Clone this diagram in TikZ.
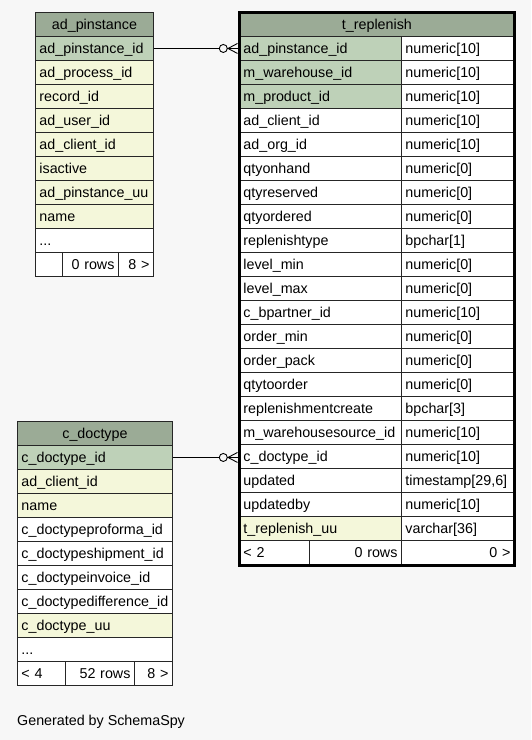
\documentclass[tikz,border=0pt]{standalone}
\usepackage{fontspec}
\setmainfont{Liberation Sans}
\definecolor{hdr}{HTML}{9BAB96}
\definecolor{pkc}{HTML}{BED1B8}
\definecolor{idx}{HTML}{F4F7DA}
\definecolor{bgc}{HTML}{F7F7F7}
\tikzset{
  cell/.style={draw=black!85, line width=0.9pt, anchor=north west, minimum height=24pt,
    inner xsep=4pt, inner ysep=0pt, text height=11.5pt, text depth=1.5pt,
    font=\fontsize{14.3}{16}\selectfont},
  conn/.style={draw=black, line width=0.9pt}
}
\newcommand\mydots{...}
\newcommand\mkcell[7]{%
  \pgfmathsetmacro\cw{#4-8}%
  \node[cell, fill=#5, minimum width=#4pt, text width=\cw pt, align=#6] (#1) at (#2,#3) {#7};}
\newcommand\crowfoot[1]{%
  \draw[conn] ([xshift=-15.7pt]#1) circle (4pt);
  \draw[conn] ([xshift=-11.7pt]#1) -- (#1);
  \draw[conn] ([xshift=-1.5pt,yshift=5pt]#1) -- ([xshift=-11pt]#1) -- ([xshift=-1.5pt,yshift=-5pt]#1);}
\begin{document}
\begin{tikzpicture}[x=1pt,y=-1pt]
\fill[bgc] (0,0) rectangle (531,740);
\useasboundingbox (0,0) rectangle (531,740);

% ad_pinstance
\mkcell{pH}{35}{12}{118}{hdr}{center}{ad\_pinstance}
\foreach \t/\c [count=\i] in {ad\_pinstance\_id/pkc, ad\_process\_id/idx, record\_id/idx, ad\_user\_id/idx, ad\_client\_id/idx, isactive/idx, ad\_pinstance\_uu/idx, name/idx, \mydots/white} {
  \pgfmathsetmacro\yy{12+24*\i}
  \mkcell{p\i}{35}{\yy}{118}{\c}{left}{\t}
}
\mkcell{pF1}{35}{252}{27}{white}{left}{}
\mkcell{pF2}{62}{252}{56}{white}{right}{0 rows}
\mkcell{pF3}{118}{252}{35}{white}{right}{8 >}

% t_replenish
\mkcell{rH}{239}{12}{275}{hdr}{center}{t\_replenish}
\foreach \t/\c/\ty [count=\i] in {ad\_pinstance\_id/pkc/numeric[10], m\_warehouse\_id/pkc/numeric[10], m\_product\_id/pkc/numeric[10], ad\_client\_id/white/numeric[10], ad\_org\_id/white/numeric[10], qtyonhand/white/numeric[0], qtyreserved/white/numeric[0], qtyordered/white/numeric[0], replenishtype/white/bpchar[1], level\_min/white/numeric[0], level\_max/white/numeric[0], c\_bpartner\_id/white/numeric[10], order\_min/white/numeric[0], order\_pack/white/numeric[0], qtytoorder/white/numeric[0], replenishmentcreate/white/bpchar[3], m\_warehousesource\_id/white/numeric[10], c\_doctype\_id/white/numeric[10], updated/white/{timestamp[29,6]}, updatedby/white/numeric[10], t\_replenish\_uu/idx/varchar[36]} {
  \pgfmathsetmacro\yy{12+24*\i}
  \mkcell{rn\i}{239}{\yy}{162}{\c}{left}{\t}
  \mkcell{rt\i}{401}{\yy}{113}{white}{left}{\ty}
}
\mkcell{rF1}{239}{540}{70}{white}{left}{< 2}
\mkcell{rF2}{309}{540}{92}{white}{right}{0 rows}
\mkcell{rF3}{401}{540}{113}{white}{right}{0 >}
\draw[line width=3pt, black] (rH.north west) rectangle ([yshift=-1pt]rF3.south east);

% c_doctype
\mkcell{cH}{17}{421}{155}{hdr}{center}{c\_doctype}
\foreach \t/\c [count=\i] in {c\_doctype\_id/pkc, ad\_client\_id/idx, name/idx, c\_doctypeproforma\_id/white, c\_doctypeshipment\_id/white, c\_doctypeinvoice\_id/white, c\_doctypedifference\_id/white, c\_doctype\_uu/idx, \mydots/white} {
  \pgfmathsetmacro\yy{421+24*\i}
  \mkcell{c\i}{17}{\yy}{155}{\c}{left}{\t}
}
\mkcell{cF1}{17}{661}{48}{white}{left}{< 4}
\mkcell{cF2}{65}{661}{69}{white}{right}{52 rows}
\mkcell{cF3}{134}{661}{38}{white}{right}{8 >}

% connectors
\coordinate (e1) at (rn1.west);
\coordinate (e2) at (rn18.west |- c1.east);
\draw[conn] (p1.east) -- ([xshift=-19.7pt]e1);
\crowfoot{e1}
\draw[conn] (c1.east) -- ([xshift=-19.7pt]e2);
\crowfoot{e2}

\node[anchor=base west, inner sep=0pt, font=\fontsize{14.3}{16}\selectfont] (gen) at (17,725) {Generated by SchemaSpy};
\end{tikzpicture}
\end{document}
